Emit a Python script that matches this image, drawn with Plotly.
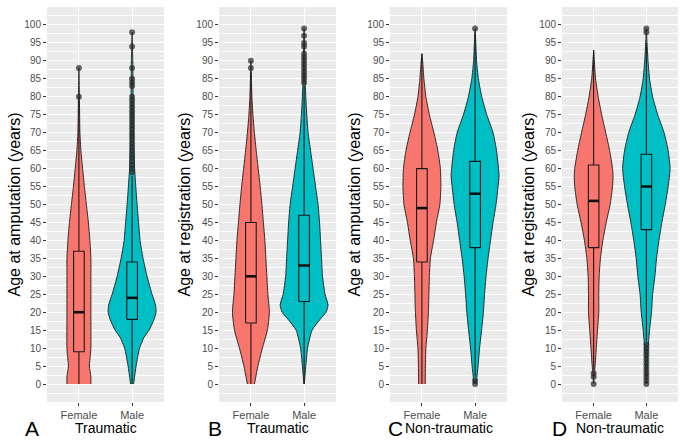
# Violin + boxplot panels: age by sex, traumatic / non-traumatic amputation
import plotly.graph_objects as go

sexes = ["Female", "Male"]
panel_letters = ["A", "B", "C", "D"]
group_titles = ["Traumatic", "Traumatic", "Non-traumatic", "Non-traumatic"]
y_titles = ["Age at amputation (years)", "Age at registration (years)",
            "Age at amputation (years)", "Age at registration (years)"]

# violin profiles: age levels and relative density
a_f_age = [0, 2, 5, 8, 10, 20, 30, 35, 40, 45, 50, 55, 60, 65, 70, 75, 80, 88]
a_f_den = [12, 12, 10.5, 11.5, 12, 12, 12, 12, 11, 9.5, 7.5, 5.5, 3.7, 2, 1, 0.7, 0.5, 0]
a_m_age = [0, 5, 10, 13, 15, 18, 20, 22, 25, 30, 35, 40, 45, 50, 55, 60, 65, 70, 80, 90, 98]
a_m_den = [1.5, 4, 7.5, 12, 17, 22, 24, 23.5, 20, 15, 11, 8, 6.5, 5, 3.7, 2.5, 1.8, 1.4, 1, 0.7, 0]

b_f_age = [0, 5, 10, 15, 20, 25, 30, 35, 40, 45, 50, 55, 60, 65, 70, 75, 80, 85, 90]
b_f_den = [3.5, 7, 11.5, 16.5, 18.5, 17, 16, 15, 14, 12.5, 11, 9.3, 7.3, 5.3, 3.5, 2, 1, 0.5, 0]
b_m_age = [0, 5, 10, 15, 18, 20, 22, 25, 30, 35, 40, 45, 50, 55, 60, 65, 70, 75, 80, 85, 90, 99]
b_m_den = [0, 1.7, 3.5, 8, 16, 22, 24, 21, 18.5, 17.5, 16.5, 15.5, 14, 11.5, 9, 6.5, 4, 2.7, 1.7, 1, 0.7, 0]

c_f_age = [0, 5, 10, 15, 20, 25, 30, 35, 40, 45, 50, 55, 60, 65, 70, 75, 80, 85, 90, 92]
c_f_den = [3.3, 3.5, 4, 5.5, 6.5, 7, 7.5, 8.5, 11.7, 14.5, 18, 19, 18.5, 16, 12, 7.5, 4, 2, 0.7, 0]
c_m_age = [0, 5, 10, 15, 20, 25, 30, 35, 40, 45, 50, 55, 58, 60, 65, 70, 75, 80, 85, 90, 95, 99]
c_m_den = [1, 3, 4.5, 6.5, 8.3, 9.5, 11, 13, 15.5, 18, 21, 23, 24, 23.5, 21.5, 18, 11.7, 6.7, 3.3, 1.5, 0.7, 0]

d_f_age = [0, 3, 5, 10, 15, 20, 25, 30, 35, 40, 45, 50, 55, 58, 60, 65, 70, 75, 80, 85, 90, 93]
d_f_den = [0, 0.7, 1.5, 2.7, 4, 5.3, 5.3, 5.7, 7, 9.5, 13, 17, 19.5, 20, 19.5, 16.5, 12.5, 8.3, 4.7, 2, 0.7, 0]
d_m_age = [0, 5, 10, 15, 20, 25, 30, 35, 40, 45, 50, 55, 60, 65, 70, 75, 80, 85, 90, 95, 99]
d_m_den = [0.5, 1, 1.7, 3.3, 5.3, 6.5, 8.8, 10.5, 13, 16, 19.5, 22.5, 24.5, 22.5, 18.3, 11.7, 6.5, 3.3, 1.7, 0.7, 0]

# box stats: lower whisker, q1, median, q3, upper whisker
a_f_box = [0, 9, 20, 37, 79]
a_m_box = [0, 18, 24, 34, 58]
b_f_box = [0, 17, 30, 45, 87]
b_m_box = [0, 23, 33, 47, 83]
c_f_box = [0, 34, 49, 60, 92]
c_m_box = [2, 38, 53, 62, 98]
d_f_box = [4, 38, 51, 61, 93]
d_m_box = [12, 43, 55, 64, 95]

# outliers
a_f_out = [80, 88]
a_m_out = [59, 60, 61, 62, 63, 64, 65, 66, 67, 68, 69, 70, 71, 72, 73, 74, 75, 76,
           77, 78, 79, 80, 83, 84, 85, 88, 94, 98]
b_f_out = [88, 90]
b_m_out = [84, 85, 86, 87, 88, 89, 90, 91, 92, 94, 95, 97, 99]
c_f_out = []
c_m_out = [0, 1, 99]
d_f_out = [0, 2, 3]
d_m_out = [0, 1, 2, 3, 4, 5, 6, 7, 8, 9, 10, 11, 98, 99]

panels = [
    [(a_f_age, a_f_den, a_f_box, a_f_out), (a_m_age, a_m_den, a_m_box, a_m_out)],
    [(b_f_age, b_f_den, b_f_box, b_f_out), (b_m_age, b_m_den, b_m_box, b_m_out)],
    [(c_f_age, c_f_den, c_f_box, c_f_out), (c_m_age, c_m_den, c_m_box, c_m_out)],
    [(d_f_age, d_f_den, d_f_box, d_f_out), (d_m_age, d_m_den, d_m_box, d_m_out)],
]

fills = ["#F8766D", "#00BFC4"]
W, H = 680, 440
# plot areas in pixels (left, right); top/bottom shared
px_x = [(47, 164), (219, 336), (390, 507), (562, 678)]
px_top, px_bot = 7, 402
ytitle_x = [14, 184, 354, 528]
letter_x = [32, 215, 395, 559]
font = "Liberation Sans, Arial, sans-serif"
bw = 0.1  # half box width

fig = go.Figure()
annotations = []

for i, panel in enumerate(panels):
    sfx = "" if i == 0 else str(i + 1)
    xa, ya = "x" + sfx, "y" + sfx
    peak = max(max(v[1]) for v in panel)
    for j, (ages, dens, box, outs) in enumerate(panel):
        pos = j + 1
        lo, q1, med, q3, hi = box
        # violin outline
        half = [d / peak * 0.45 for d in dens]
        vx = [pos + h for h in half] + [pos - h for h in half[::-1]]
        vy = list(ages) + list(ages[::-1])
        fig.add_trace(go.Scatter(x=vx, y=vy, mode="lines", fill="toself",
                                 fillcolor=fills[j],
                                 line=dict(color="#2b2b2b", width=1, shape="spline", smoothing=0.6),
                                 xaxis=xa, yaxis=ya, hoverinfo="skip", showlegend=False))
        # whiskers
        fig.add_trace(go.Scatter(x=[pos, pos, None, pos, pos], y=[lo, q1, None, q3, hi],
                                 mode="lines", line=dict(color="#1a1a1a", width=1.1),
                                 xaxis=xa, yaxis=ya, hoverinfo="skip", showlegend=False))
        # box
        fig.add_trace(go.Scatter(x=[pos - bw, pos + bw, pos + bw, pos - bw, pos - bw],
                                 y=[q1, q1, q3, q3, q1], mode="lines", fill="toself",
                                 fillcolor=fills[j], line=dict(color="#1a1a1a", width=1.1),
                                 xaxis=xa, yaxis=ya, hoverinfo="skip", showlegend=False))
        # median
        fig.add_trace(go.Scatter(x=[pos - bw, pos + bw], y=[med, med], mode="lines",
                                 line=dict(color="#111111", width=2.6),
                                 xaxis=xa, yaxis=ya, hoverinfo="skip", showlegend=False))
        if outs:
            fig.add_trace(go.Scatter(x=[pos] * len(outs), y=outs, mode="markers",
                                     marker=dict(color="rgba(40,40,40,0.7)", size=6),
                                     xaxis=xa, yaxis=ya, showlegend=False))

    x0, x1 = px_x[i]
    fig.layout["xaxis" + sfx] = dict(
        domain=[x0 / W, x1 / W], anchor=ya, range=[0.4, 2.6],
        tickvals=[1, 2], ticktext=sexes, ticks="outside", ticklen=3, tickcolor="#333333",
        tickfont=dict(size=11, color="#4D4D4D", family=font),
        showgrid=True, gridcolor="white", gridwidth=1.1, zeroline=False, showline=False)
    fig.layout["yaxis" + sfx] = dict(
        domain=[1 - px_bot / H, 1 - px_top / H], anchor=xa, range=[-5, 105],
        tickvals=list(range(0, 101, 5)), ticks="outside", ticklen=3, tickcolor="#333333",
        tickfont=dict(size=10, color="#4D4D4D", family=font),
        showgrid=True, gridcolor="white", gridwidth=1.1, zeroline=False, showline=False,
        minor=dict(tickvals=[v + 2.5 for v in range(-5, 101, 5)], showgrid=True,
                   gridcolor="white", gridwidth=0.5))

    annotations.append(dict(text=y_titles[i], x=ytitle_x[i] / W, y=1 - (px_top + px_bot) / 2 / H,
                            xref="paper", yref="paper", textangle=-90, showarrow=False,
                            xanchor="center", yanchor="middle",
                            font=dict(size=16, color="black", family=font)))
    annotations.append(dict(text=group_titles[i], x=(x0 + x1) / 2 / W, y=1 - 428 / H,
                            xref="paper", yref="paper", showarrow=False,
                            xanchor="center", yanchor="middle",
                            font=dict(size=14, color="black", family=font)))
    annotations.append(dict(text=panel_letters[i], x=letter_x[i] / W, y=1 - 428 / H,
                            xref="paper", yref="paper", showarrow=False,
                            xanchor="center", yanchor="middle",
                            font=dict(size=21, color="black", family=font)))

fig.update_layout(width=W, height=H, margin=dict(l=0, r=0, t=0, b=0),
                  plot_bgcolor="#EBEBEB", paper_bgcolor="white",
                  annotations=annotations)

# page body has a default margin; drop it so the figure fills the window
fig.write_html("out.html", config={"displayModeBar": False},
               post_script="document.body.style.margin='0';")
